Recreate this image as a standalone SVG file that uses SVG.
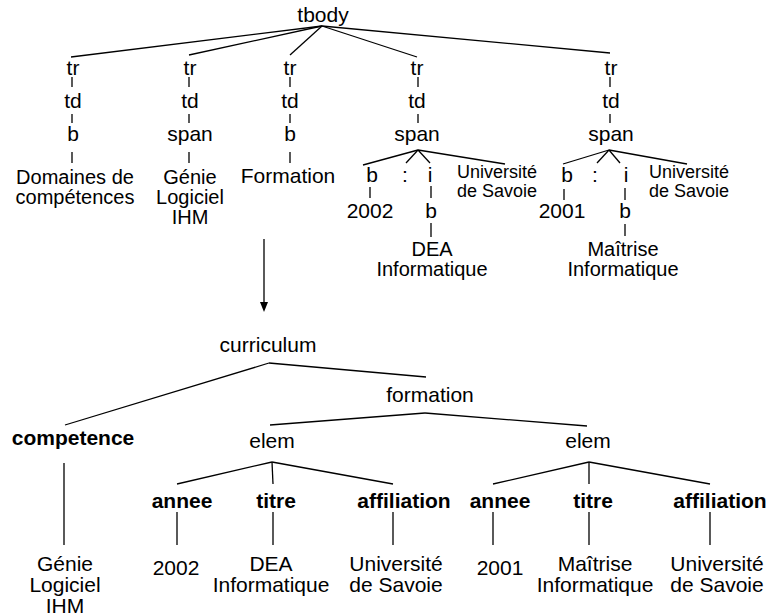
<svg xmlns="http://www.w3.org/2000/svg" width="770" height="616" viewBox="0 0 770 616">
<style>
text{font-family:"Liberation Sans",Arial,Helvetica,sans-serif;font-size:21px;text-anchor:middle;fill:#000}
.m{font-size:20px}
.s{font-size:18px}
.b{font-weight:bold}
#connectors line{stroke:#000;stroke-width:1.3;fill:none}
</style>
<rect width="770" height="616" fill="#fff"/>
<g id="connectors">
<line x1="322" y1="26" x2="71" y2="57"/>
<line x1="322" y1="26" x2="189" y2="55"/>
<line x1="322" y1="26" x2="290" y2="55"/>
<line x1="322" y1="26" x2="417" y2="57"/>
<line x1="322" y1="26" x2="610" y2="53"/>
<line x1="72" y1="77" x2="72" y2="87"/><line x1="72" y1="114" x2="72" y2="123"/><line x1="72" y1="152" x2="72" y2="163"/>
<line x1="189" y1="77" x2="189" y2="87"/><line x1="189" y1="114" x2="189" y2="123"/><line x1="189" y1="152" x2="189" y2="163"/>
<line x1="290" y1="77" x2="290" y2="87"/><line x1="290" y1="114" x2="290" y2="123"/><line x1="290" y1="152" x2="290" y2="163"/>
<line x1="418" y1="77" x2="418" y2="87"/><line x1="418" y1="114" x2="418" y2="123"/>
<line x1="610" y1="77" x2="610" y2="87"/><line x1="610" y1="114" x2="610" y2="123"/>
<line x1="418" y1="150" x2="363" y2="165"/>
<line x1="418" y1="150" x2="406" y2="163"/>
<line x1="418" y1="150" x2="430" y2="163"/>
<line x1="418" y1="150" x2="505" y2="164"/>
<line x1="370" y1="187" x2="370" y2="198"/>
<line x1="431" y1="186" x2="431" y2="198"/>
<line x1="431" y1="223" x2="431" y2="237"/>
<line x1="609" y1="150" x2="563" y2="164"/>
<line x1="609" y1="150" x2="597" y2="163"/>
<line x1="609" y1="150" x2="620" y2="163"/>
<line x1="609" y1="150" x2="687" y2="164"/>
<line x1="564" y1="189" x2="564" y2="200"/>
<line x1="625" y1="188" x2="625" y2="200"/>
<line x1="625" y1="224" x2="625" y2="236"/>
<line x1="264" y1="239" x2="264" y2="303"/>
<polygon points="260,302 268,302 264,312" fill="#000"/>
<line x1="269" y1="363" x2="65" y2="425"/>
<line x1="269" y1="363" x2="426" y2="377"/>
<line x1="425" y1="413" x2="270" y2="425"/>
<line x1="425" y1="413" x2="587" y2="426"/>
<line x1="272" y1="462" x2="177" y2="484"/>
<line x1="272" y1="462" x2="273" y2="484"/>
<line x1="272" y1="462" x2="393" y2="484"/>
<line x1="589" y1="462" x2="493" y2="484"/>
<line x1="589" y1="462" x2="589" y2="484"/>
<line x1="589" y1="462" x2="710" y2="484"/>
<line x1="64" y1="463" x2="64" y2="545"/>
<line x1="177" y1="512" x2="177" y2="545"/>
<line x1="273" y1="512" x2="273" y2="545"/>
<line x1="393" y1="512" x2="393" y2="545"/>
<line x1="493" y1="512" x2="493" y2="545"/>
<line x1="589" y1="512" x2="589" y2="545"/>
<line x1="710" y1="512" x2="710" y2="545"/>
</g>
<g id="tbody"><text x="323" y="22">tbody</text></g>
<g id="tr1"><text x="73" y="75">tr</text></g>
<g id="td1"><text x="73" y="108">td</text></g>
<g id="b1"><text x="73" y="141">b</text></g>
<g id="leaf1"><text class="m" x="75" y="184">Domaines de</text><text class="m" x="75" y="204">compétences</text></g>
<g id="tr2"><text x="190" y="75">tr</text></g>
<g id="td2"><text x="190" y="108">td</text></g>
<g id="span2"><text x="190" y="141">span</text></g>
<g id="leaf2"><text class="m" x="190" y="184">Génie</text><text class="m" x="190" y="204">Logiciel</text><text class="m" x="190" y="224">IHM</text></g>
<g id="tr3"><text x="290" y="75">tr</text></g>
<g id="td3"><text x="290" y="108">td</text></g>
<g id="b3"><text x="290" y="141">b</text></g>
<g id="leaf3"><text x="288" y="183">Formation</text></g>
<g id="tr4"><text x="417" y="75">tr</text></g>
<g id="td4"><text x="417" y="108">td</text></g>
<g id="span4"><text x="417" y="141">span</text></g>
<g id="b4a"><text x="372" y="182">b</text></g>
<g id="colon4"><text x="405" y="182">:</text></g>
<g id="i4"><text x="430" y="182">i</text></g>
<g id="univ4"><text class="s" x="497" y="178">Université</text><text class="s" x="497" y="197">de Savoie</text></g>
<g id="year4"><text x="370" y="218">2002</text></g>
<g id="b4b"><text x="431" y="218">b</text></g>
<g id="leaf4"><text class="m" x="432" y="256">DEA</text><text class="m" x="432" y="276">Informatique</text></g>
<g id="tr5"><text x="611" y="75">tr</text></g>
<g id="td5"><text x="611" y="108">td</text></g>
<g id="span5"><text x="611" y="141">span</text></g>
<g id="b5a"><text x="567" y="182">b</text></g>
<g id="colon5"><text x="595" y="182">:</text></g>
<g id="i5"><text x="626" y="182">i</text></g>
<g id="univ5"><text class="s" x="689" y="178">Université</text><text class="s" x="689" y="197">de Savoie</text></g>
<g id="year5"><text x="562" y="218">2001</text></g>
<g id="b5b"><text x="625" y="218">b</text></g>
<g id="leaf5"><text class="m" x="623" y="256">Maîtrise</text><text class="m" x="623" y="276">Informatique</text></g>
<g id="curriculum"><text x="268" y="352">curriculum</text></g>
<g id="formation"><text x="430" y="402">formation</text></g>
<g id="competence"><text class="b" x="73" y="445">competence</text></g>
<g id="elem1"><text x="272" y="448">elem</text></g>
<g id="elem2"><text x="588" y="448">elem</text></g>
<g id="annee1"><text class="b" x="182" y="508">annee</text></g>
<g id="titre1"><text class="b" x="276" y="508">titre</text></g>
<g id="affiliation1"><text class="b" x="404" y="508">affiliation</text></g>
<g id="annee2"><text class="b" x="500" y="508">annee</text></g>
<g id="titre2"><text class="b" x="593" y="508">titre</text></g>
<g id="affiliation2"><text class="b" x="720" y="508">affiliation</text></g>
<g id="val-competence"><text x="65" y="571">Génie</text><text x="65" y="592">Logiciel</text><text x="65" y="613">IHM</text></g>
<g id="val-annee1"><text x="176" y="575">2002</text></g>
<g id="val-titre1"><text x="271" y="571">DEA</text><text x="271" y="592">Informatique</text></g>
<g id="val-affiliation1"><text x="396" y="571">Université</text><text x="396" y="592">de Savoie</text></g>
<g id="val-annee2"><text x="500" y="575">2001</text></g>
<g id="val-titre2"><text x="595" y="571">Maîtrise</text><text x="595" y="592">Informatique</text></g>
<g id="val-affiliation2"><text x="717" y="571">Université</text><text x="717" y="592">de Savoie</text></g>
</svg>
